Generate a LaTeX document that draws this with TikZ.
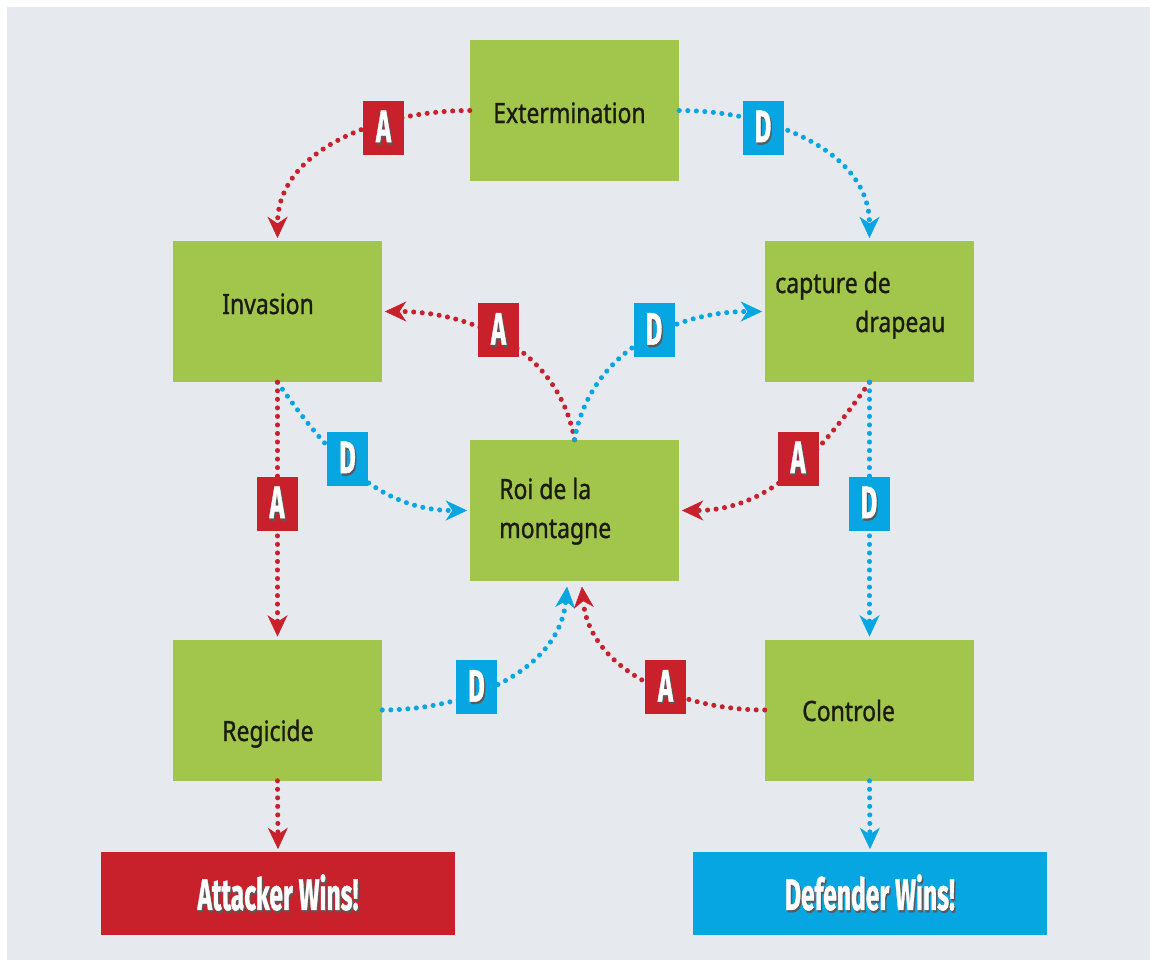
\documentclass[tikz,border=0pt]{standalone}
\usepackage{fontspec}
\setmainfont{Noto Sans}
\newfontfamily\boxfont{Noto Sans}[FakeBold=1.2]
\newfontfamily\labfont{Fira Sans}[FakeBold=1.2]
\usetikzlibrary{arrows.meta}
\definecolor{bg}{HTML}{E6E9EE}
\definecolor{boxgreen}{HTML}{A2C64C}
\definecolor{ared}{HTML}{C9212B}
\definecolor{dblue}{HTML}{05A6E1}
\definecolor{txt}{HTML}{1B1B12}
\newcommand{\shtxt}[1]{\rlap{\kern1.8pt\raisebox{-1.6pt}{\color{black!65}#1}}{\color{white}#1}}
\newcommand{\btxt}[1]{\scalebox{0.82}[1]{#1}}
\newcommand{\ltxt}[1]{\scalebox{0.56}[1]{\shtxt{#1}}}
\tikzset{
  gbox/.style={fill=boxgreen, minimum width=156.75pt, minimum height=105.75pt, inner sep=0pt},
  winbox/.style={minimum width=265.5pt, minimum height=62.25pt, inner sep=0pt,
    font=\labfont\bfseries\fontsize{33}{33}\selectfont},
  btext/.style={anchor=base west, inner sep=0pt, text=txt, font=\boxfont\fontsize{21}{25}\selectfont},
  lab/.style={minimum width=30.75pt, minimum height=40.5pt, inner sep=0pt,
    font=\labfont\bfseries\fontsize{34}{34}\selectfont},
  alab/.style={lab, fill=ared},
  dlab/.style={lab, fill=dblue},
  conn/.style={line width=3.8pt, line cap=round, dash pattern=on 0pt off 6.4pt,
    -{Stealth[length=16pt,width=15pt,inset=5pt,line width=0.5pt]}, shorten >=2pt},
  aconn/.style={conn, draw=ared},
  dconn/.style={conn, draw=dblue},
}
\begin{document}
\begin{tikzpicture}[x=0.75pt,y=-0.75pt]
\useasboundingbox (0,0) rectangle (1150,960);
\fill[white] (0,0) rectangle (1150,960);
\fill[bg] (7,7) rectangle (1150,960);

% boxes
\node[gbox] (ext) at (574.5,110.5) {};
\node[gbox] (inv) at (277.5,311.5) {};
\node[gbox] (cap) at (869.5,311.5) {};
\node[gbox] (roi) at (574.5,510.5) {};
\node[gbox] (reg) at (277.5,710) {};
\node[gbox] (con) at (869.5,710) {};
\node[winbox, fill=ared] (aw) at (278,893.5) {\ltxt{Attacker Wins!}};
\node[winbox, fill=dblue] (dw) at (870,893.5) {\ltxt{Defender Wins!}};

% box texts
\node[btext] (t1) at (493,123) {\btxt{Extermination}};
\node[btext] (t2) at (222,314) {\btxt{Invasion}};
\node[btext] (t3) at (775,293) {\btxt{capture de}};
\node[btext] (t4) at (855,332) {\btxt{drapeau}};
\node[btext] (t5) at (499,499) {\btxt{Roi de la}};
\node[btext] (t6) at (499,538) {\btxt{montagne}};
\node[btext] (t7) at (222,741) {\btxt{Regicide}};
\node[btext] (t8) at (802,721) {\btxt{Controle}};

% connectors
\draw[aconn] (ext.west) to[out=180,in=90] (inv.north);
\draw[dconn] (ext.east) to[out=0,in=90] (cap.north);
\draw[aconn] (roi.north) to[out=100,in=0] (inv.east);
\draw[dconn] (roi.north) to[out=80,in=180] (cap.west);
\draw[dconn] (inv.south) to[out=-55,in=180] (roi.west);
\draw[aconn] (cap.south) to[out=-125,in=0] (roi.east);
\draw[aconn] (inv.south) -- (reg.north);
\draw[dconn] (cap.south) -- (con.north);
\draw[dconn, shorten >=4pt] (reg.east) to[out=0,in=-95] ([xshift=-5.25pt]roi.south);
\draw[aconn, shorten >=4pt] (con.west) to[out=180,in=-85] ([xshift=5.25pt]roi.south);
\draw[aconn] (reg.south) -- (aw.north);
\draw[dconn] (con.south) -- (dw.north);

% labels
\node[alab] (la1) at (383.5,127.5) {\ltxt{A}};
\node[dlab] (ld1) at (763,127.5) {\ltxt{D}};
\node[alab] (la2) at (498.5,330) {\ltxt{A}};
\node[dlab] (ld2) at (654,330) {\ltxt{D}};
\node[dlab] (ld3) at (347.5,458.5) {\ltxt{D}};
\node[alab] (la3) at (277,503.5) {\ltxt{A}};
\node[alab] (la4) at (798,458.5) {\ltxt{A}};
\node[dlab] (ld4) at (869,503.5) {\ltxt{D}};
\node[dlab] (ld5) at (476.5,687) {\ltxt{D}};
\node[alab] (la5) at (665.5,687) {\ltxt{A}};
\end{tikzpicture}
\end{document}
